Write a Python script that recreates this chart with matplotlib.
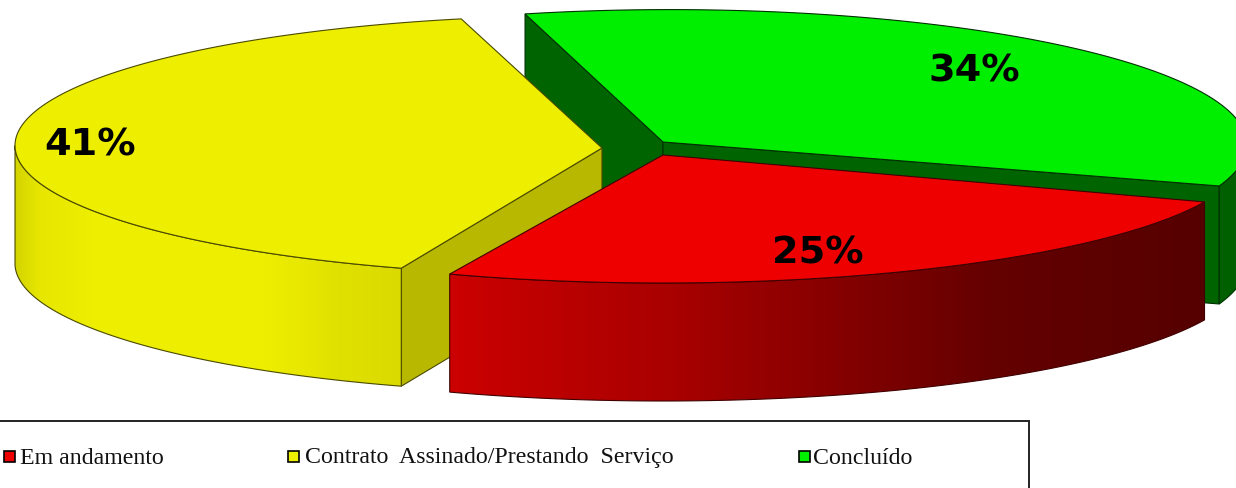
import numpy as np
import matplotlib
matplotlib.use("Agg")
import matplotlib.pyplot as plt
from matplotlib.colors import LinearSegmentedColormap
from matplotlib.patches import Polygon, Rectangle

categorias = ["Em andamento", "Contrato  Assinado/Prestando  Serviço", "Concluído"]
valores = [25, 41, 34]
rotulos = ["25%", "41%", "34%"]

cores_topo = ["#EE0000", "#EEEE00", "#00EE00"]
cores_corte = ["#800000", "#B8B800", "#006400"]
cores_borda = ["#400000", "#4A4A00", "#003000"]
cores_parede = [
    [(0, "#CC0000"), (0.3, "#A80000"), (0.72, "#640000"), (1, "#560000")],
    [(0, "#D4D400"), (0.06, "#E6E600"), (0.2, "#EEEE00"), (0.65, "#EEEE00"), (0.85, "#E0E000"), (1, "#DADA00")],
    [(0, "#006000"), (1, "#006000")],
]

# vertice, centro da elipse, raios e angulo inicial de cada fatia, em pixels da imagem
vertices = [(663, 155), (602, 148), (663, 142)]
centros = [(663, 155), (592, 145.5), (670, 144.6)]
raios = [(582, 128), (577, 130), (577, 135)]
inicios = [-21.5, -109.3, 104.55]
altura = 118

# quais faces do corte aparecem (lado inicial, lado final)
faces_visiveis = [(False, False), (True, False), (True, True)]


def arco(i, t0, t1):
    t = np.radians(np.linspace(t0, t1, 200))
    cx, cy = centros[i]
    a, b = raios[i]
    return np.column_stack((cx + a * np.cos(t), cy - b * np.sin(t)))


def desenhar_fatia(ax, i, z):
    t0 = inicios[i]
    t1 = t0 - valores[i] * 3.6
    vertice = np.array(vertices[i], dtype=float)
    baixo = np.array([0, altura])
    topo = arco(i, t0, t1)

    # faces do corte
    for ponta, visivel in zip((topo[0], topo[-1]), faces_visiveis[i]):
        if visivel:
            face = np.array([vertice, ponta, ponta + baixo, vertice + baixo])
            ax.add_patch(Polygon(face, closed=True, fc=cores_corte[i], ec=cores_borda[i], lw=0.8, zorder=z))

    # parede externa, so a parte da frente (seno negativo)
    pa = min(t0, 0) if t0 > -180 else t0
    pb = max(t1, -180)
    linha = arco(i, pa, pb)
    parede = np.vstack((linha, (linha + baixo)[::-1]))
    cmap = LinearSegmentedColormap.from_list("p%d" % i, cores_parede[i])
    x0, x1 = parede[:, 0].min(), parede[:, 0].max()
    y0, y1 = parede[:, 1].min(), parede[:, 1].max()
    img = ax.imshow(np.linspace(0, 1, 256).reshape(1, -1), cmap=cmap, aspect="auto",
                    extent=(x0, x1, y1, y0), zorder=z + 0.1, interpolation="bilinear")
    contorno = Polygon(parede, closed=True, fc="none", ec=cores_borda[i], lw=0.8, zorder=z + 0.2)
    ax.add_patch(contorno)
    img.set_clip_path(contorno)

    ax.add_patch(Polygon(np.vstack((vertice, topo)), closed=True, fc=cores_topo[i],
                         ec=cores_borda[i], lw=0.8, zorder=z + 0.3))


fig = plt.figure(figsize=(12.36, 4.88), dpi=100)
ax = fig.add_axes([0, 0, 1, 1])

for z, i in enumerate([2, 1, 0]):
    desenhar_fatia(ax, i, z + 1)

pos_rotulos = [(818, 250), (90, 141), (974, 67)]
for i in range(3):
    ax.text(pos_rotulos[i][0], pos_rotulos[i][1], rotulos[i], ha="center", va="center_baseline",
            family="DejaVu Sans", fontweight="bold", fontsize=27.5, color="black", zorder=10)

# legenda
ax.add_patch(Rectangle((-3, 421), 1032, 80, fc="white", ec="#222222", lw=1.4, zorder=5))
pos_legenda = [4, 288, 799]
pos_texto = [20, 305, 813]
cores_legenda = ["#EE0000", "#EEEE00", "#00EE00"]
for i in range(3):
    ax.add_patch(Rectangle((pos_legenda[i], 451), 11, 11, fc=cores_legenda[i], ec="black", lw=1.2, zorder=6))
    ax.text(pos_texto[i], 458, categorias[i], ha="left", va="center",
            family="Liberation Serif", fontsize=17.2, color="#111111", zorder=6)

ax.set_xlim(0, 1236)
ax.set_ylim(488, 0)
ax.axis("off")
fig.savefig("out.png", dpi=100, facecolor="white")
